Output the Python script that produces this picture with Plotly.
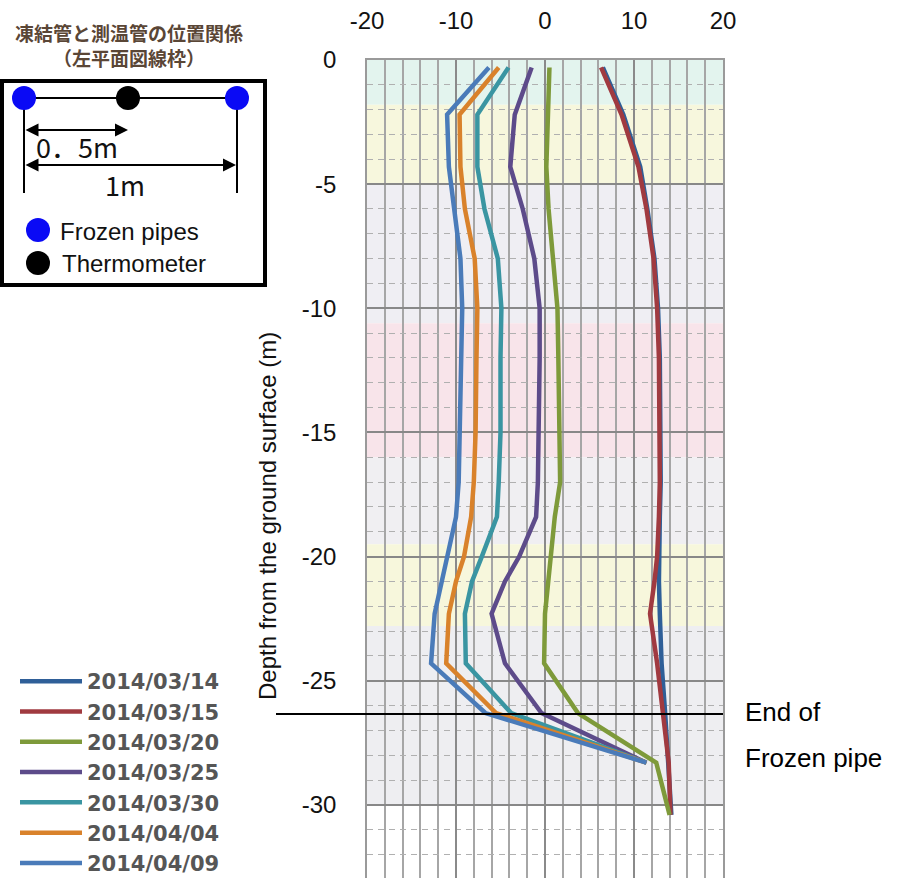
import plotly.graph_objects as go

# ---------------- data ----------------
depth = [-0.3, -2.2, -4.3, -6.0, -8.0, -10.0, -12.0, -15.0, -17.0, -18.4,
         -20.0, -21.0, -22.3, -24.3, -26.3, -28.3, -30.4]

dates = ["2014/03/14", "2014/03/15", "2014/03/20", "2014/03/25",
         "2014/03/30", "2014/04/04", "2014/04/09"]

t_0314 = [6.5, 8.8, 10.7, 11.5, 12.3, 12.7, 12.9, 13.0, 13.0, 12.9, 12.8, 12.8, 12.9, 13.1, 13.5, 13.9, 14.2]
t_0315 = [6.3, 8.6, 10.5, 11.4, 12.2, 12.6, 12.8, 12.9, 12.9, 12.8, 12.6, 12.3, 11.8, 12.6, 13.2, 13.9, 14.1]
t_0320 = [0.5, 0.3, 0.15, 0.4, 0.9, 1.4, 1.5, 1.6, 1.7, 1.1, 0.6, 0.35, 0.0, -0.1, 3.7, 12.5, 14.0]
t_0325 = [-1.5, -3.4, -3.9, -2.5, -1.2, -0.6, -0.6, -0.7, -0.8, -1.0, -2.9, -4.5, -6.0, -4.5, -0.4, 11.4, None]
t_0330 = [-4.1, -7.6, -7.6, -6.8, -5.3, -4.9, -5.0, -5.0, -5.2, -5.4, -7.1, -8.2, -9.0, -8.9, -3.8, 11.4, None]
t_0404 = [-5.2, -9.6, -9.5, -9.0, -7.9, -7.6, -7.7, -7.8, -8.0, -8.3, -9.1, -10.0, -10.8, -11.1, -5.5, 11.4, None]
t_0409 = [-6.3, -11.0, -10.8, -10.2, -9.5, -9.3, -9.4, -9.5, -9.7, -10.0, -11.0, -11.7, -12.4, -12.8, -6.7, 11.4, None]

series = [t_0314, t_0315, t_0320, t_0325, t_0330, t_0404, t_0409]
colors = ["#2f5f98", "#a03a40", "#7e9a3a", "#5d4b8a", "#3a95a2", "#d9822b", "#4a7bb9"]

x_ticks = [-20, -10, 0, 10, 20]
y_ticks = [0, -5, -10, -15, -20, -25, -30]

# background soil bands (top, bottom, colour)
band_top = [0.0, -1.8, -5.0, -10.6, -16.0, -19.5, -22.8]
band_bot = [-1.8, -5.0, -10.6, -16.0, -19.5, -22.8, -30.0]
band_col = ["#e3f4ee", "#f7f7dd", "#efeef3", "#f8e4ea", "#f0eff2", "#f7f7dc", "#eeeef1"]

# ---------------- layout geometry helpers (pixels -> paper) ----------------
W, H = 899, 878
L, R, T, B = 367, 723, 60, 878


def xp(px):
    return (px - L) / (R - L)


def yp(py):
    return (B - py) / (B - T)


fig = go.Figure()
for name, vals, col in zip(dates, series, colors):
    fig.add_trace(go.Scatter(x=vals, y=depth, mode="lines", name=name,
                             line=dict(color=col, width=4.5)))

shapes = []
for t0, b0, c in zip(band_top, band_bot, band_col):
    shapes.append(dict(type="rect", xref="x", yref="y", x0=-20, x1=20, y0=b0, y1=t0,
                       fillcolor=c, line=dict(width=0), layer="below"))

# end of frozen pipe line
shapes.append(dict(type="line", xref="paper", yref="paper", x0=xp(276), x1=xp(723),
                   y0=yp(714), y1=yp(714), line=dict(color="black", width=2)))

# diagram box
shapes.append(dict(type="rect", xref="paper", yref="paper", x0=xp(2), x1=xp(265),
                   y0=yp(285), y1=yp(81), line=dict(color="black", width=4)))
# diagram lines
for (x0, y0, x1, y1) in [(24, 98, 237, 98), (24, 98, 24, 193), (237, 98, 237, 193)]:
    shapes.append(dict(type="line", xref="paper", yref="paper", x0=xp(x0), x1=xp(x1),
                       y0=yp(y0), y1=yp(y1), line=dict(color="black", width=2)))
# dots
for (cx, cy, c) in [(24, 98, "#0a0af5"), (237, 98, "#0a0af5"), (128, 98, "black"),
                    (38, 230, "#0a0af5"), (38, 263, "black")]:
    r = 12
    shapes.append(dict(type="circle", xref="paper", yref="paper",
                       x0=xp(cx - r), x1=xp(cx + r), y0=yp(cy + r), y1=yp(cy - r),
                       fillcolor=c, line=dict(width=0)))

annotations = []
# arrows
for (xh, y, length) in [(128, 130, 104), (236, 165, 212)]:
    annotations.append(dict(xref="paper", yref="paper", x=xp(xh), y=yp(y), ax=-length, ay=0,
                            text="", showarrow=True, arrowhead=2, arrowside="end+start",
                            arrowsize=1.3, arrowwidth=2, arrowcolor="black"))

txt_font = dict(family="Liberation Sans, Arial", color="#111111")
jp_num_font = dict(family="Noto Sans CJK JP", color="#111111", size=27)
annotations += [
    dict(xref="paper", yref="paper", x=xp(34), y=yp(146), text="0．5m", showarrow=False,
         xanchor="left", yanchor="middle", font=jp_num_font),
    dict(xref="paper", yref="paper", x=xp(125), y=yp(184), text="1m", showarrow=False,
         xanchor="center", yanchor="middle", font=jp_num_font),
    dict(xref="paper", yref="paper", x=xp(58), y=yp(231), text="Frozen pipes", showarrow=False,
         xanchor="left", yanchor="middle", font=dict(size=24, **txt_font)),
    dict(xref="paper", yref="paper", x=xp(60), y=yp(263), text="Thermometer", showarrow=False,
         xanchor="left", yanchor="middle", font=dict(size=24, **txt_font)),
    dict(xref="paper", yref="paper", x=xp(129), y=yp(45.5),
         text="<b>凍結管と測温管の位置関係</b><br><b>（左平面図線枠）</b>",
         showarrow=False, xanchor="center", yanchor="middle", align="center",
         font=dict(size=19, family="Noto Sans CJK JP", color="#5a4636")),
    dict(xref="paper", yref="paper", x=xp(267), y=yp(516), text="Depth from the ground surface (m)",
         textangle=-90, showarrow=False, xanchor="center", yanchor="middle",
         font=dict(size=24, **txt_font)),
    dict(xref="paper", yref="paper", x=xp(743), y=yp(712), text="End of", showarrow=False,
         xanchor="left", yanchor="middle", font=dict(size=26, family="Liberation Sans, Arial", color="black")),
    dict(xref="paper", yref="paper", x=xp(743), y=yp(758), text="Frozen pipe", showarrow=False,
         xanchor="left", yanchor="middle", font=dict(size=26, family="Liberation Sans, Arial", color="black")),
]

fig.update_layout(
    width=W, height=H,
    margin=dict(l=L, r=W - R, t=T, b=H - B, autoexpand=False),
    paper_bgcolor="white", plot_bgcolor="white",
    font=dict(family="Liberation Sans, Arial", color="#111111"),
    shapes=shapes, annotations=annotations,
    showlegend=True,
    legend=dict(xref="container", yref="container", x=15 / W, y=1 - 661 / H,
                xanchor="left", yanchor="top",
                bgcolor="rgba(0,0,0,0)", itemwidth=62,
                font=dict(family="DejaVu Sans", size=21, color="#565656", weight="bold"),
                tracegroupgap=0),
    xaxis=dict(range=[-20, 20], side="top", tickvals=x_ticks,
               ticktext=[str(v) for v in x_ticks],
               ticks="outside", ticklen=20, tickcolor="rgba(0,0,0,0)",
               tickfont=dict(size=24, color="#111111"),
               showgrid=True, gridcolor="#8a8a8a", gridwidth=1.6,
               minor=dict(dtick=2, tick0=0, showgrid=True, gridcolor="#a6a6a6", gridwidth=1.5),
               zeroline=False, showline=True, linecolor="#9a9a9a", linewidth=1.5, mirror=True,
               automargin=False),
    yaxis=dict(range=[-(B - T) / 24.83, 0], tickvals=y_ticks,
               ticktext=[str(v) for v in y_ticks],
               ticks="outside", ticklen=24, tickcolor="rgba(0,0,0,0)",
               tickfont=dict(size=24, color="#111111"),
               showgrid=True, gridcolor="#888888", gridwidth=1.6,
               minor=dict(dtick=1, tick0=0, showgrid=True, gridcolor="#b0b0b0", gridwidth=1.3,
                          griddash="6px,5px"),
               zeroline=False, showline=True, linecolor="#9a9a9a", linewidth=1.5, mirror=True,
               automargin=False),
)

fig.write_html("out.html", config={"displayModeBar": False},
               post_script="document.body.style.margin='0';")
